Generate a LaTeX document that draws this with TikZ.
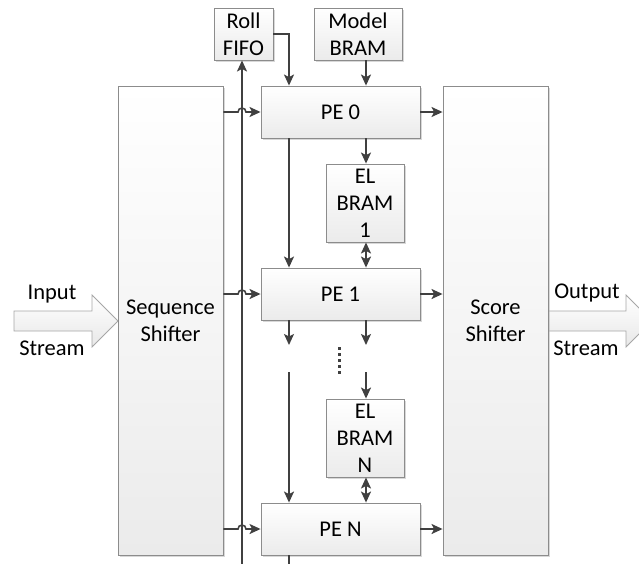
\documentclass[tikz,border=0pt]{standalone}
\usepackage{fontspec}
\setmainfont{Carlito}
\usetikzlibrary{arrows.meta,shadows,calc}
\definecolor{linec}{HTML}{404040}
\definecolor{edgec}{HTML}{8C8C8C}
\definecolor{fillbot}{HTML}{EBEBEB}
\tikzset{
  blk/.style={draw=edgec, line width=0.9pt, top color=white, bottom color=fillbot,
    drop shadow={shadow xshift=1.8pt, shadow yshift=-1.8pt, fill=black!30, opacity=0.5},
    align=center, inner sep=0pt, font=\fontsize{22.5}{27}\selectfont},
  shifter/.style={blk, minimum width=105pt, minimum height=469pt},
  pebox/.style={blk, minimum width=159pt, minimum height=52pt},
  elbox/.style={blk, minimum width=78pt, minimum height=78pt},
  conn/.style={draw=linec, line width=1.6pt},
  tip/.style={Stealth[length=11pt,width=10pt,inset=2.5pt]},
  arr/.style={conn, -{Stealth[length=11pt,width=10pt,inset=2.5pt]}},
  darr/.style={conn, {Stealth[length=11pt,width=10pt,inset=2.5pt]}-{Stealth[length=11pt,width=10pt,inset=2.5pt]}},
  fat/.style={draw=black!35, line width=0.8pt, top color=white, bottom color=black!9},
  lbl/.style={inner sep=0pt, font=\fontsize{22.5}{27}\selectfont}
}
\begin{document}
\begin{tikzpicture}[x=1pt,y=-1pt]
\useasboundingbox (0,0) rectangle (639,563);
\clip (0,0) rectangle (639,563);

% wide input / output stream arrows
\draw[fat] (14,311) -- (92,311) -- (92,295) -- (118,321) -- (92,347) -- (92,331) -- (14,331) -- cycle;
\draw[fat] (548,311) -- (626,311) -- (626,295) -- (652,321) -- (626,347) -- (626,331) -- (548,331) -- cycle;
\node[lbl] (inA) at (52,294) {Input};
\node[lbl] (inB) at (52,348) {Stream};
\node[lbl] (outA) at (587,293) {Output};
\node[lbl] (outB) at (586,348) {Stream};

% blocks
\node[shifter] (seq) at (170.5,320.5) {Sequence\\Shifter};
\node[shifter] (score) at (495.5,320.5) {Score\\Shifter};
\node[blk, minimum width=59pt, minimum height=52pt] (fifo) at (243.5,34) {Roll\\FIFO};
\node[blk, minimum width=88pt, minimum height=52pt] (model) at (358,34) {Model\\BRAM};
\node[pebox] (pe0) at (340.5,112) {PE 0};
\node[pebox] (pe1) at (340.5,294) {PE 1};
\node[pebox] (peN) at (340.5,529) {PE N};
\node[elbox] (el1) at (365,203) {EL\\BRAM\\1};
\node[elbox] (elN) at (365,438) {EL\\BRAM\\N};

% column positions of the vertical links
\coordinate (lc) at (289,0);
\coordinate (rc) at (366,0);
\coordinate (bus) at (242,0);
\coordinate (busend) at (0,570);
\coordinate (gapA) at (0,345);
\coordinate (gapB) at (0,372);

% roll bus back to the FIFO
\draw[arr] (bus |- busend) -- (bus |- fifo.south);

% shifter inputs hopping over the bus, PE outputs to score shifter
\foreach \p in {pe0,pe1,peN}{
  \draw[arr] (seq.east |- \p.west) -- ($(bus |- \p.west)+(-4,0)$)
     arc[start angle=180,end angle=0,radius=4pt] -- (\p.west);
  \draw[arr] (\p.east) -- (score.west |- \p.east);
}

% feeds into PE 0
\draw[arr] (fifo.east) -| (pe0.north -| lc);
\draw[arr] (model.south -| rc) -- (pe0.north -| rc);

% PE 0 to PE 1 and EL BRAM 1
\draw[arr] (pe0.south -| lc) -- (pe1.north -| lc);
\draw[arr] (pe0.south -| rc) -- (el1.north -| rc);
\draw[darr] (el1.south -| rc) -- (pe1.north -| rc);

% PE 1 onwards
\draw[arr] (pe1.south -| lc) -- (lc |- gapA);
\draw[arr] (pe1.south -| rc) -- (rc |- gapA);
\foreach \k in {0,...,4} \fill[linec] (337.8,346.8+6*\k) rectangle ++(3,3);
\draw[arr] (lc |- gapB) -- (peN.north -| lc);
\draw[arr] (rc |- gapB) -- (elN.north -| rc);
\draw[darr] (elN.south -| rc) -- (peN.north -| rc);
\draw[conn] (peN.south -| lc) -- (lc |- busend);
\end{tikzpicture}
\end{document}
